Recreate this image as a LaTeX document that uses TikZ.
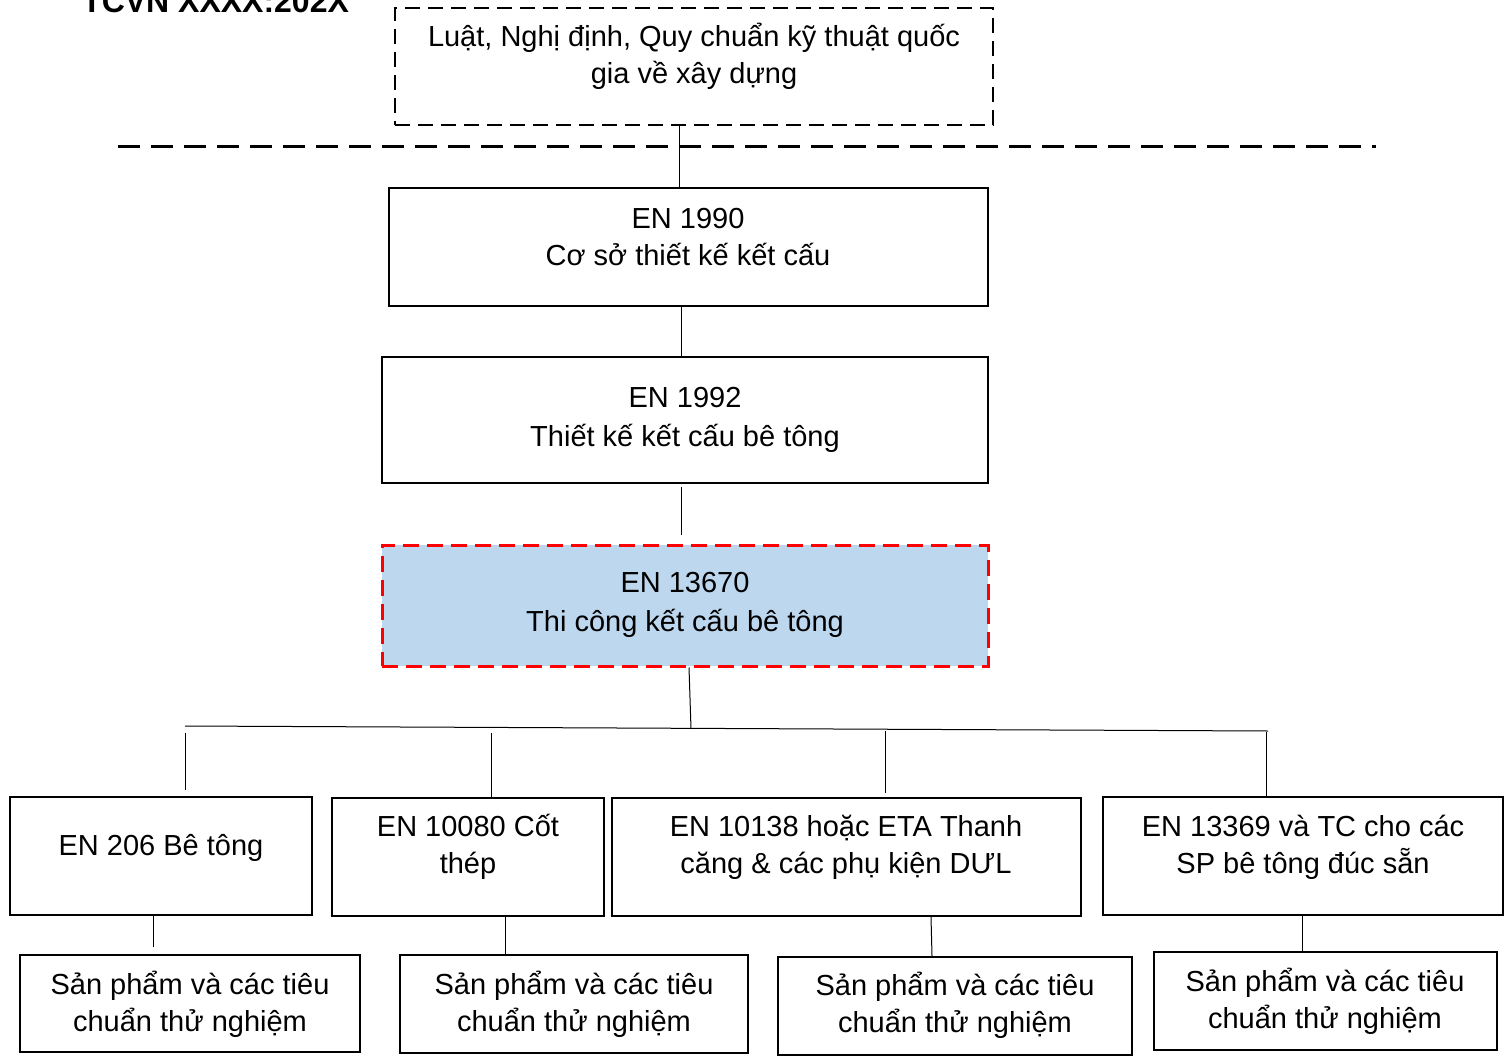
\documentclass[tikz,border=0pt]{standalone}
\usepackage{fontspec}
\setmainfont{Liberation Sans}
\begin{document}
\begin{tikzpicture}[x=1pt,y=-1pt,
  box/.style={draw=black,line width=2pt,rectangle,inner sep=0pt},
  lawbox/.style={draw=black,line width=2.5pt,dash pattern=on 15pt off 8pt,rectangle,inner sep=0pt},
  keybox/.style={draw={rgb,255:red,255;green,0;blue,0},fill={rgb,255:red,189;green,215;blue,238},line width=3pt,dash pattern=on 16pt off 8pt,rectangle,inner sep=0pt},
  txt/.style={align=center,inner sep=0pt,font=\fontsize{29}{37}\selectfont},
  txtw/.style={align=center,inner sep=0pt,font=\fontsize{29}{39}\selectfont},
  conn/.style={draw=black,line width=1pt},
  sepline/.style={draw=black,line width=3pt,dash pattern=on 22pt off 11pt}
]
\useasboundingbox (0,0) rectangle (1511,1056);
\clip (0,0) rectangle (1511,1056);
\fill[white] (0,0) rectangle (1511,1056);

% title
\node[anchor=base west,inner sep=0pt,font=\fontsize{32}{38}\selectfont\bfseries] (title) at (82,13) {TCVN XXXX:202X};

% top law box
\node[lawbox,minimum width=598pt,minimum height=117pt] (law) at (694,66.5) {};
\node[txt] (lawt) at (694,56) {Luật, Nghị định, Quy chuẩn kỹ thuật quốc\\gia về xây dựng};

% separator
\coordinate (sepL) at (118,147);
\coordinate (sepR) at (1376,147);
\draw[sepline] (sepL) -- (sepR);

% EN 1990
\node[box,minimum width=599pt,minimum height=118pt] (en1990) at (688.5,247) {};
\node[txt] (en1990t) at (688,237) {EN 1990\\Cơ sở thiết kế kết cấu};

% EN 1992
\node[box,minimum width=606pt,minimum height=126pt] (en1992) at (685,420) {};
\node[txtw] (en1992t) at (685,420) {EN 1992\\Thiết kế kết cấu bê tông};

% EN 13670
\node[keybox,minimum width=606pt,minimum height=121pt] (en13670) at (685,605.5) {};
\node[txtw] (en13670t) at (685,605) {EN 13670\\Thi công kết cấu bê tông};

% connectors top chain
\coordinate (x1) at (679,0);
\draw[conn] (law.south -| x1) -- (en1990.north -| x1);
\coordinate (x2) at (681,0);
\draw[conn] (en1990.south -| x2) -- (en1992.north -| x2);
\coordinate (c3a) at (681,487);
\coordinate (c3b) at (681,535);
\draw[conn] (c3a) -- (c3b);
\coordinate (busL) at (185,726);
\coordinate (busR) at (1268,731);
\coordinate (busM) at (691,729);
\draw[conn] (en13670.south -| 689,0) -- (busM);
\draw[conn] (busL) -- (busR);

% row 1 boxes
\node[box,minimum width=302pt,minimum height=118pt] (b1) at (161,856) {};
\node[txt] (b1t) at (161,848) {EN 206 Bê tông};
\node[box,minimum width=272pt,minimum height=118pt] (b2) at (468,857) {};
\node[txt] (b2t) at (468,847) {EN 10080 Cốt\\thép};
\node[box,minimum width=469pt,minimum height=118pt] (b3) at (846.5,857) {};
\node[txt] (b3t) at (846,847) {EN 10138 hoặc ETA Thanh\\căng \& các phụ kiện DƯL};
\node[box,minimum width=400pt,minimum height=118pt] (b4) at (1303,856) {};
\node[txt] (b4t) at (1303,847) {EN 13369 và TC cho các\\SP bê tông đúc sẵn};

% bus drops
\coordinate (d1) at (185,733);
\coordinate (d2) at (491,733);
\coordinate (d3) at (885,731);
\coordinate (d4) at (1266,732);
\draw[conn] (d1) -- (d1 |- 0,790);
\draw[conn] (d2) -- (b2.north -| d2);
\draw[conn] (d3) -- (d3 |- 0,793);
\draw[conn] (d4) -- (b4.north -| d4);

% row 2 boxes
\node[box,minimum width=340pt,minimum height=97pt] (p1) at (190,1003.5) {};
\node[txt] (p1t) at (190,1004) {Sản phẩm và các tiêu\\chuẩn thử nghiệm};
\node[box,minimum width=348pt,minimum height=98pt] (p2) at (574,1004) {};
\node[txt] (p2t) at (574,1004) {Sản phẩm và các tiêu\\chuẩn thử nghiệm};
\node[box,minimum width=354pt,minimum height=98pt] (p3) at (955,1006) {};
\node[txt] (p3t) at (955,1005) {Sản phẩm và các tiêu\\chuẩn thử nghiệm};
\node[box,minimum width=343pt,minimum height=98pt] (p4) at (1325.5,1001) {};
\node[txt] (p4t) at (1325,1001) {Sản phẩm và các tiêu\\chuẩn thử nghiệm};

% drops to row 2
\coordinate (e1) at (153,0);
\draw[conn] (b1.south -| e1) -- (e1 |- 0,947);
\coordinate (e2) at (505,0);
\draw[conn] (b2.south -| e2) -- (p2.north -| e2);
\draw[conn] (b3.south -| 931,0) -- (p3.north -| 932,0);
\coordinate (e4) at (1302,0);
\draw[conn] (b4.south -| e4) -- (p4.north -| e4);
\end{tikzpicture}
\end{document}
